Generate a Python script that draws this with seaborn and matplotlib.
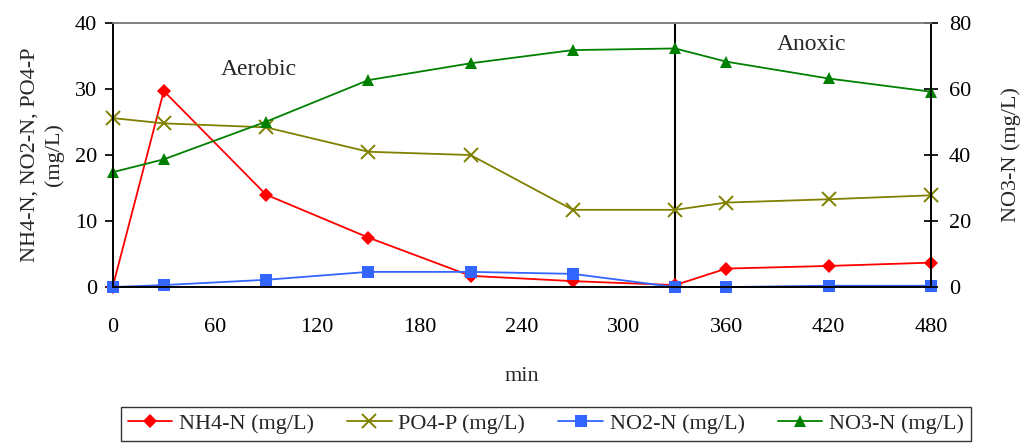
import numpy as np
import pandas as pd
import seaborn as sns
import matplotlib
matplotlib.use('Agg')
import matplotlib.pyplot as plt

# temps de prélèvement (min)
temps = [0, 30, 90, 150, 210, 270, 330, 360, 420, 480]
nh4 = [0.0, 29.7, 14.0, 7.5, 1.7, 0.9, 0.3, 2.8, 3.2, 3.7]
po4 = [25.6, 24.8, 24.2, 20.5, 20.0, 11.7, 11.7, 12.8, 13.3, 13.9]
no2 = [0.0, 0.3, 1.1, 2.3, 2.3, 2.0, 0.0, 0.0, 0.2, 0.2]
no3 = [34.8, 38.7, 50.1, 62.7, 67.8, 71.8, 72.3, 68.3, 63.2, 59.2]
x_ticks = [0, 60, 120, 180, 240, 300, 360, 420, 480]

sns.set_theme(style='white')
plt.rcParams['font.family'] = ['Liberation Serif', 'DejaVu Serif']

fig = plt.figure(figsize=(10.24, 4.43), dpi=100)
ax = fig.add_axes([0.110, 0.352, 0.799, 0.596])
ax2 = ax.twinx()

df = pd.DataFrame({'min': temps, 'NH4': nh4, 'PO4': po4, 'NO2': no2, 'NO3': no3})

sns.lineplot(data=df, x='min', y='NH4', ax=ax, color='#FF0000', marker='D', markersize=7,
             markeredgewidth=0, linewidth=1.3, label='NH4-N (mg/L)', legend=False, clip_on=False)
sns.lineplot(data=df, x='min', y='PO4', ax=ax, color='#808000', marker='x', markersize=10,
             markeredgewidth=1.4, markeredgecolor='#808000', linewidth=1.3,
             label='PO4-P (mg/L)', legend=False, clip_on=False)
sns.lineplot(data=df, x='min', y='NO2', ax=ax, color='#3366FF', marker='s', markersize=8,
             markeredgewidth=0, linewidth=1.3, label='NO2-N (mg/L)', legend=False, clip_on=False)
sns.lineplot(data=df, x='min', y='NO3', ax=ax2, color='#008000', marker='^', markersize=9,
             markeredgewidth=0, linewidth=1.3, label='NO3-N (mg/L)', legend=False, clip_on=False)

# limite aérobie / anoxie
ax.axvline(330, color='black', linewidth=1.5, zorder=1)

ax.set_xlim(0, 480)
ax.set_ylim(0, 40)
ax2.set_ylim(0, 80)
ax.set_xticks(x_ticks)
ax.set_yticks([0, 10, 20, 30, 40])
ax2.set_yticks([0, 20, 40, 60, 80])

fs = 16
ax.set_xlabel('min', fontsize=fs, labelpad=22)
ax.set_ylabel('NH4-N, NO2-N, PO4-P\n(mg/L)', fontsize=fs, labelpad=8, linespacing=1.35)
ax2.set_ylabel('NO3-N (mg/L)', fontsize=fs, labelpad=22)

ax.tick_params(axis='x', direction='in', length=6, labelsize=fs, pad=22, colors='black')
ax.tick_params(axis='y', direction='out', length=6, labelsize=fs, colors='black', left=True, pad=5)
ax2.tick_params(axis='y', direction='inout', length=10, labelsize=fs, colors='black', right=True, pad=8)

for a in (ax, ax2):
    for s in a.spines.values():
        s.set_color('black')
        s.set_linewidth(1.2)
    a.spines['top'].set_color('#808080')

ax.text(86, 33.0, 'Aerobic', fontsize=fs + 1, ha='center', va='center')
ax2.text(410, 73.5, 'Anoxic', fontsize=fs + 1, ha='center', va='center')

h1, l1 = ax.get_legend_handles_labels()
h2, l2 = ax2.get_legend_handles_labels()
leg = fig.legend(h1 + h2, l1 + l2, loc='upper center', bbox_to_anchor=(0.533, 0.107),
                 ncol=4, fontsize=fs, frameon=True, fancybox=False, handlelength=2.0,
                 handletextpad=0.3, columnspacing=1.5, borderpad=0.3)
leg.get_frame().set_edgecolor('black')
leg.get_frame().set_linewidth(1.0)

fig.savefig('out.png', dpi=100)
